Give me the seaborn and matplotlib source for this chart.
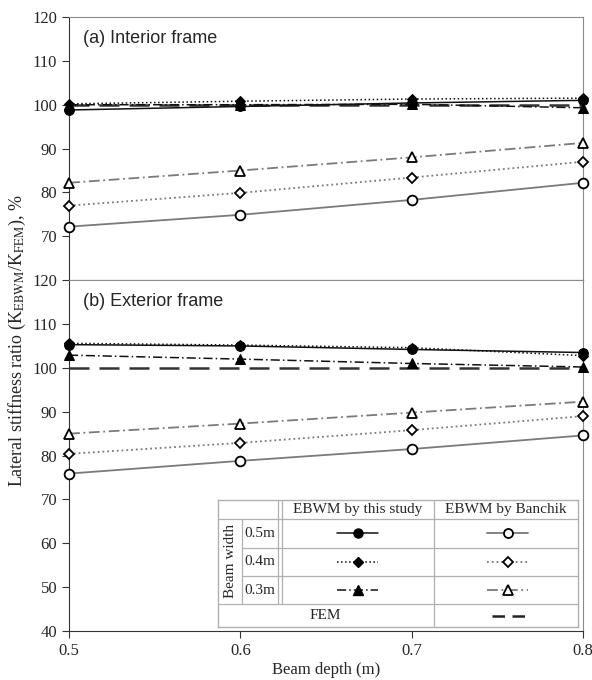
import numpy as np
import pandas as pd
import matplotlib
matplotlib.use("Agg")
import matplotlib.pyplot as plt
import seaborn as sns

sns.set_style("ticks")
plt.rcParams['font.family'] = ['Liberation Serif', 'DejaVu Serif']
plt.rcParams['mathtext.fontset'] = 'stix'

# beam depth (m)
depth = [0.5, 0.6, 0.7, 0.8]

# (a) interior frame, K_EBWM / K_FEM in %
int_study_05 = [98.8, 99.6, 100.4, 101.0]
int_study_04 = [100.2, 100.8, 101.3, 101.5]
int_study_03 = [100.0, 100.0, 100.1, 99.3]
int_banchik_05 = [72.2, 74.9, 78.3, 82.2]
int_banchik_04 = [77.0, 79.9, 83.4, 87.0]
int_banchik_03 = [82.2, 85.0, 88.0, 91.3]

# (b) exterior frame
ext_study_05 = [105.3, 105.0, 104.2, 103.5]
ext_study_04 = [105.6, 105.2, 104.6, 102.8]
ext_study_03 = [102.9, 102.0, 101.0, 100.2]
ext_banchik_05 = [75.9, 78.8, 81.5, 84.6]
ext_banchik_04 = [80.4, 82.9, 85.8, 89.0]
ext_banchik_03 = [85.0, 87.3, 89.8, 92.3]

fem = [100, 100, 100, 100]

widths = ['0.5m', '0.4m', '0.3m']
col_titles = ['EBWM by this study', 'EBWM by Banchik']

# line styles per beam width
ls_width = {'0.5m': '-', '0.4m': ':', '0.3m': (0, (6, 2, 1, 2))}
mk_width = {'0.5m': 'o', '0.4m': 'D', '0.3m': '^'}
ms_width = {'0.5m': 7, '0.4m': 5.5, '0.3m': 7}
study_color = '#111111'
banchik_color = '#7a7a7a'
fem_style = dict(color='#333333', linestyle=(0, (8, 4)), linewidth=1.8)

fig = plt.figure(figsize=(5.92, 6.8), dpi=100)
ax_top = fig.add_axes([0.1166, 0.588, 0.8684, 0.387])
ax_bot = fig.add_axes([0.1166, 0.072, 0.8684, 0.516])


def draw_panel(ax, study, banchik):
    for w, vals in zip(widths, study):
        sns.lineplot(x=depth, y=vals, ax=ax, color=study_color, linestyle=ls_width[w],
                     linewidth=1.1, marker=mk_width[w], markersize=ms_width[w],
                     markerfacecolor='black', markeredgecolor='black', legend=False,
                     zorder=4, clip_on=False)
    for w, vals in zip(widths, banchik):
        sns.lineplot(x=depth, y=vals, ax=ax, color=banchik_color, linestyle=ls_width[w],
                     linewidth=1.3, marker=mk_width[w], markersize=ms_width[w],
                     markerfacecolor='white', markeredgecolor='black', markeredgewidth=1.3,
                     legend=False, zorder=4, clip_on=False)
    sns.lineplot(x=depth, y=fem, ax=ax, legend=False, zorder=3, **fem_style)
    ax.set_xlim(0.5, 0.8)
    for side in ['top', 'right']:
        ax.spines[side].set_visible(True)
        ax.spines[side].set_color('#8a8a8a')
    ax.spines['left'].set_color('#333333')
    ax.spines['bottom'].set_color('#333333')
    ax.tick_params(axis='y', labelsize=12, length=5, direction='out', color='#333333')
    ax.set_ylabel('')
    ax.set_xlabel('')


draw_panel(ax_top, [int_study_05, int_study_04, int_study_03],
           [int_banchik_05, int_banchik_04, int_banchik_03])
draw_panel(ax_bot, [ext_study_05, ext_study_04, ext_study_03],
           [ext_banchik_05, ext_banchik_04, ext_banchik_03])

ax_top.set_ylim(60, 120)
ax_top.set_yticks([70, 80, 90, 100, 110, 120])
ax_top.set_xticks([])
ax_bot.set_ylim(40, 120)
ax_bot.set_yticks(np.arange(40, 121, 10))
ax_bot.set_xticks([0.5, 0.6, 0.7, 0.8])
ax_bot.set_xticklabels(['0.5', '0.6', '0.7', '0.8'])
ax_bot.tick_params(axis='x', labelsize=12, length=5, direction='out', color='#333333')
ax_bot.set_xlabel('Beam depth (m)', fontsize=12, labelpad=2)

ax_top.text(0.027, 0.92, '(a) Interior frame', transform=ax_top.transAxes,
            fontsize=13, family=['Liberation Sans', 'DejaVu Sans'], va='center', ha='left')
ax_bot.text(0.027, 0.938, '(b) Exterior frame', transform=ax_bot.transAxes,
            fontsize=13, family=['Liberation Sans', 'DejaVu Sans'], va='center', ha='left')

fig.text(0.029, 0.5, r'Lateral stiffness ratio (K$_{\mathrm{EBWM}}$/K$_{\mathrm{FEM}}$), %',
         rotation=90, va='center', ha='center', fontsize=13)

# table-like legend in lower right
W, H = 360.0, 127.0
leg = fig.add_axes([218 / 592, 1 - 627 / 680, W / 592, H / 680])
leg.set_xlim(0, W)
leg.set_ylim(H, 0)
leg.set_xticks([])
leg.set_yticks([])
leg.set_facecolor('white')
leg.set_zorder(10)
for s in leg.spines.values():
    s.set_color('#b0b0b0')
    s.set_linewidth(1.0)
grid_kw = dict(color='#b0b0b0', linewidth=0.9)
row_edges = [0, 19, 47.7, 76, 104, 127]
leg.plot([0, W], [19, 19], **grid_kw)
leg.plot([23.7, W], [47.7, 47.7], **grid_kw)
leg.plot([23.7, W], [76, 76], **grid_kw)
leg.plot([0, W], [104, 104], **grid_kw)
leg.plot([23.7, 23.7], [19, 104], **grid_kw)
leg.plot([60, 60], [0, 104], **grid_kw)
leg.plot([63.7, 63.7], [0, 104], **grid_kw)
leg.plot([216, 216], [0, H], **grid_kw)

fs = 11
leg.text(140, 9.5, col_titles[0], ha='center', va='center', fontsize=fs)
leg.text(288, 9.5, col_titles[1], ha='center', va='center', fontsize=fs)
leg.text(12, 61.5, 'Beam width', rotation=90, ha='center', va='center', fontsize=fs)
leg.text(107, 115.5, 'FEM', ha='center', va='center', fontsize=fs)
for i, w in enumerate(widths):
    yc = (row_edges[i + 1] + row_edges[i + 2]) / 2
    leg.text(42, yc, w, ha='center', va='center', fontsize=fs)
    leg.plot([118.7, 160], [yc, yc], color=study_color, linestyle=ls_width[w], linewidth=1.1)
    leg.plot([139.7], [yc], marker=mk_width[w], markersize=ms_width[w] - 0.5,
             color='black', linestyle='none')
    leg.plot([268.7, 310], [yc, yc], color=banchik_color, linestyle=ls_width[w], linewidth=1.3)
    leg.plot([289.7], [yc], marker=mk_width[w], markersize=ms_width[w] - 0.5,
             markerfacecolor='white', markeredgecolor='black', markeredgewidth=1.3,
             linestyle='none')
leg.plot([273.7, 307], [115.5, 115.5], color='#222222', linestyle=(0, (5, 3)), linewidth=1.8)

fig.savefig('out.png', dpi=100)
